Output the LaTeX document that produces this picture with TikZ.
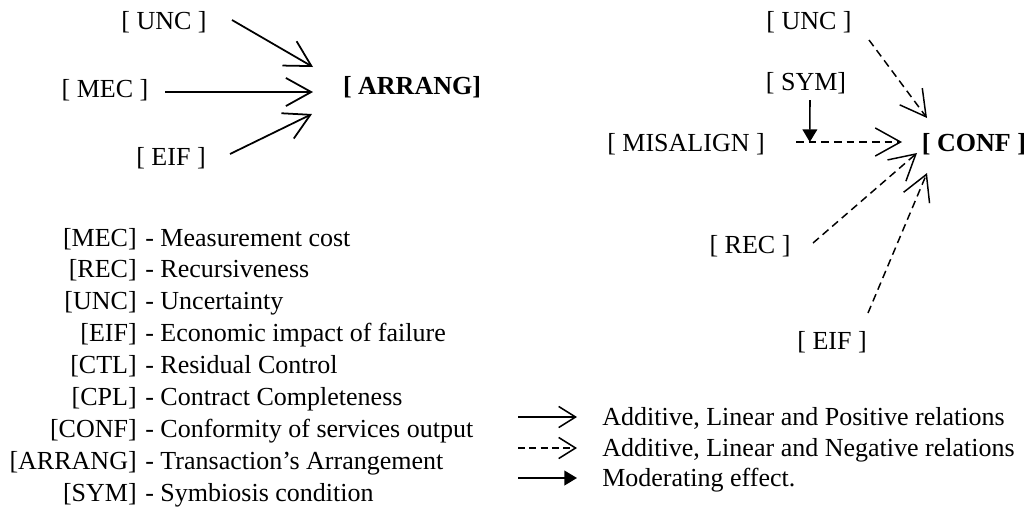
\documentclass[tikz,border=0pt]{standalone}
\usepackage{fontspec}
\setmainfont{Liberation Serif}
\usetikzlibrary{positioning, arrows.meta, calc}

\begin{document}
\begin{tikzpicture}[
  x=0.025cm, y=-0.025cm,
  every node/.style={inner sep=0pt, align=center, font=\fontsize{18.5}{22}\selectfont},
  posarrow/.style={-{Straight Barb[length=18pt, width=20pt]}, line width=1.25pt},
  negarrow/.style={-{Straight Barb[length=18pt, width=20pt]}, line width=1.05pt, dash pattern=on 5.5pt off 3.5pt},
  modarrow/.style={-{Triangle[length=9pt, width=10.5pt]}, line width=1.1pt},
  keyarrow/.style={-{Straight Barb[length=12pt, width=15pt]}, line width=1.1pt}
]
\useasboundingbox (0,0) rectangle (1031,508);

% Left model: drivers of the arrangement
\node (unca) at (164,22) {[ UNC ]};
\node (mec) at (105,90) {[ MEC ]};
\node (eifa) at (171,158) {[ EIF ]};
\node[font=\fontsize{18.5}{22}\selectfont\bfseries] (arrang) at (412,87) {[ ARRANG]};

\draw[posarrow] ($(unca)+(68,-2)$) -- ($(arrang)+(-99,-20)$);
\draw[posarrow] ($(mec)+(60,2)$) -- ($(arrang)+(-99,5)$);
\draw[posarrow] ($(eifa)+(59,-4)$) -- ($(arrang)+(-100,27)$);

% Right model: drivers of conformity
\node (uncb) at (809,22) {[ UNC ]};
\node (sym) at (806,83) {[ SYM]};
\node (misalign) at (686,144) {[ MISALIGN ]};
\node[font=\fontsize{18.5}{22}\selectfont\bfseries] (conf) at (974,144) {[ CONF ]};
\node (rec) at (750,246) {[ REC ]};
\node (eifb) at (832,342) {[ EIF ]};

\draw[negarrow] ($(uncb)+(60,18)$) -- ($(conf)+(-47,-26)$);
\draw[negarrow] ($(misalign)+(110,-2)$) -- coordinate[pos=0.13] (modpt) ($(conf)+(-72,-2)$);
\draw[negarrow] ($(rec)+(63,-3)$) -- ($(conf)+(-57,9)$);
\draw[negarrow] ($(eifb)+(36,-29)$) -- ($(conf)+(-47,29)$);
\draw[modarrow] ($(sym)+(4,17)$) -- (modpt);

% Legend of abbreviations
\foreach \abbr/\desc [count=\i from 0] in {MEC/Measurement cost, REC/Recursiveness,
    UNC/Uncertainty, EIF/Economic impact of failure, CTL/Residual Control,
    CPL/Contract Completeness, CONF/Conformity of services output,
    ARRANG/Transaction's Arrangement, SYM/Symbiosis condition} {
  \node[anchor=base east] (abbr\i) at (137,{246+31.9*\i}) {[\abbr]};
  \node[anchor=base west] (desc\i) at (145,{246+31.9*\i}) {- \desc};
}

% Legend of arrows
\node[anchor=base west] (keypos) at (602,425) {Additive, Linear and Positive relations};
\node[anchor=base west] (keyneg) at (602,456) {Additive, Linear and Negative relations};
\node[anchor=base west] (keymod) at (602,486) {Moderating effect.};

\draw[keyarrow] ($(keypos.base west)+(-84,-8)$) -- ($(keypos.base west)+(-25,-8)$);
\draw[keyarrow, dash pattern=on 5pt off 3pt] ($(keyneg.base west)+(-84,-8)$) -- ($(keyneg.base west)+(-25,-8)$);
\draw[modarrow] ($(keymod.base west)+(-84,-8)$) -- ($(keymod.base west)+(-25,-8)$);

\end{tikzpicture}
\end{document}
